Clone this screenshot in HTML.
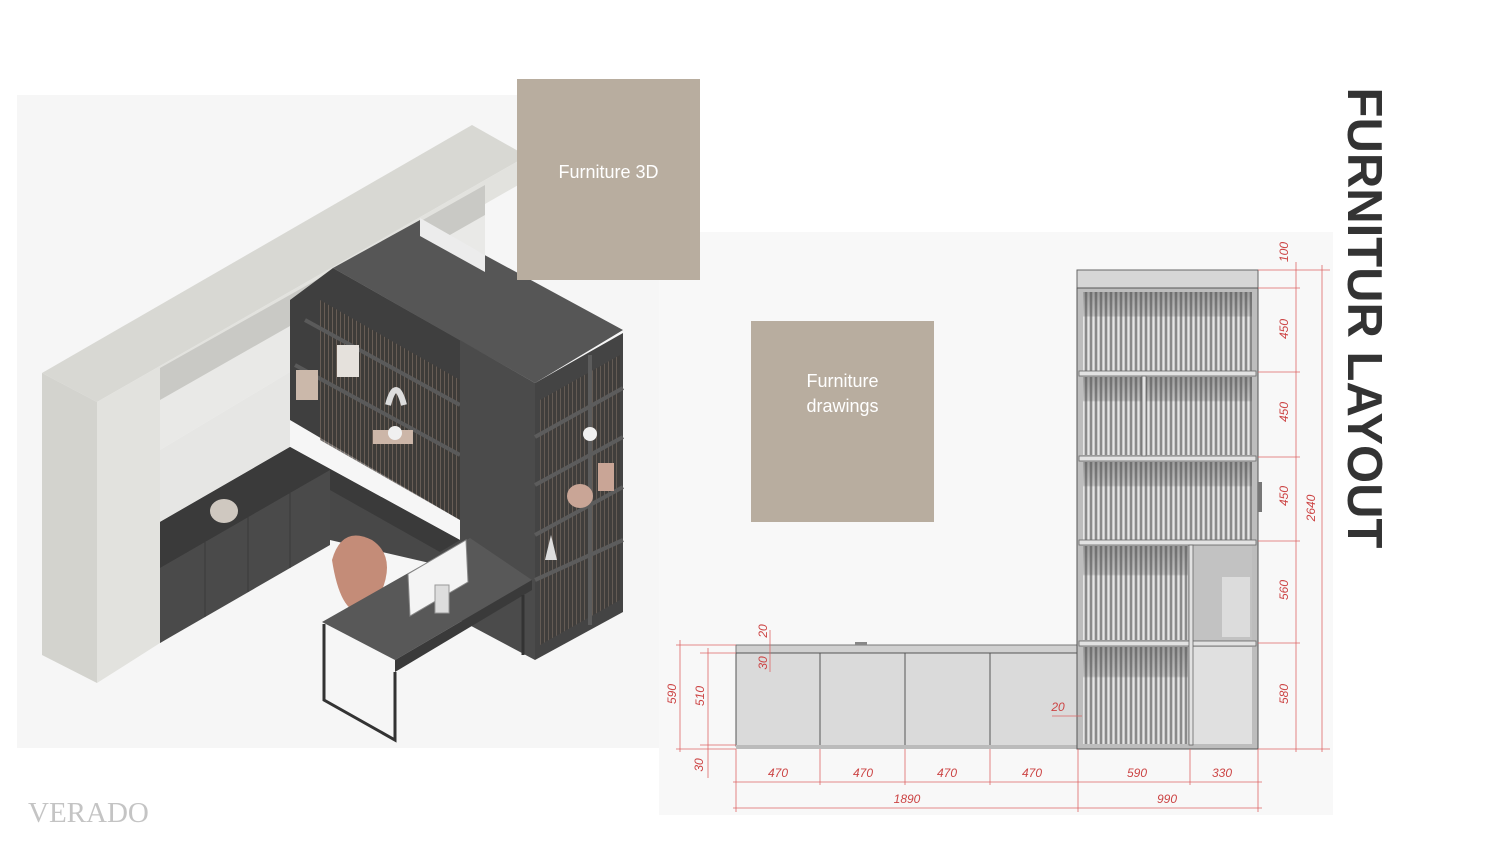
<!DOCTYPE html>
<html><head><meta charset="utf-8"><style>
html,body{margin:0;padding:0;background:#fff;}
body{width:1500px;height:844px;position:relative;overflow:hidden;font-family:"Liberation Sans",sans-serif;}
.box{position:absolute;background:#b8ad9f;color:#fff;font-size:18px;text-align:center;line-height:25px;}
.title{position:absolute;left:1364px;top:318px;transform:translate(-50%,-50%) rotate(90deg);white-space:nowrap;font-size:49px;font-weight:bold;color:#333;letter-spacing:0px;}
.logo{position:absolute;left:28px;top:797px;font-family:"Liberation Serif",serif;font-size:29px;color:#c4c4c4;letter-spacing:0px;}
</style></head><body>
<svg width="1500" height="844" style="position:absolute;left:0;top:0">
<defs>
<pattern id="sl" width="5" height="10" patternUnits="userSpaceOnUse">
<rect width="5" height="10" fill="#c9c9c9"/><rect width="2" height="10" fill="#8a8a8a"/><rect x="3" width="1" height="10" fill="#e6e6e6"/>
</pattern>
<pattern id="br" width="4" height="10" patternUnits="userSpaceOnUse">
<rect width="4" height="10" fill="#3e3a37"/><rect width="1" height="10" fill="#7a6a5e"/>
</pattern>
<linearGradient id="sh" x1="0" y1="0" x2="0" y2="1"><stop offset="0" stop-color="#555" stop-opacity=".5"/><stop offset=".3" stop-color="#555" stop-opacity=".25"/><stop offset=".32" stop-color="#555" stop-opacity="0"/></linearGradient>
</defs>
<rect x="17" y="95" width="643" height="653" fill="#f6f6f6"/>
<rect x="659" y="232" width="674" height="583" fill="#f8f8f8"/>

<!-- 3D scene -->
<polygon points="42,373 472,125 527,156 97,402" fill="#d8d8d3"/>
<polygon points="42,373 97,402 97,683 42,655" fill="#d3d3ce"/>
<polygon points="97,402 527,156 527,180 485,204 485,250 160,435 160,643 97,683" fill="#e2e2de"/>
<polygon points="160,368 485,185 485,250 160,435" fill="#c9c9c5"/>
<polygon points="160,400 485,215 485,260 290,372 160,450" fill="#e9e9e7"/>
<polygon points="160,450 290,372 290,470 160,545" fill="#e6e6e4"/>
<polygon points="290,300 333,268 460,340 460,520 290,420" fill="#3f3f3f"/>
<polygon points="320,300 460,380 460,520 320,440" fill="url(#br)" opacity=".7"/>
<polyline points="295,365 460,455" stroke="#5a5a5a" stroke-width="4" fill="none"/>
<polyline points="305,320 460,405" stroke="#5a5a5a" stroke-width="4" fill="none"/>
<!-- lower cabinet -->
<polygon points="160,522 290,447 460,540 460,570 330,540 160,643" fill="#484848"/>
<polygon points="160,522 290,447 330,470 160,568" fill="#3a3a3a"/>
<polygon points="290,447 460,540 440,552 330,490 290,470" fill="#3a3a3a"/>
<polygon points="160,568 330,470 330,545 160,643" fill="#4a4a4a"/>
<g stroke="#3a3a3a" stroke-width="1"><line x1="205" y1="542" x2="205" y2="617"/><line x1="248" y1="517" x2="248" y2="592"/><line x1="290" y1="493" x2="290" y2="568"/></g>
<!-- tower -->
<polygon points="333,268 420,220 623,330 535,383" fill="#565656"/>
<polygon points="420,218 485,255 485,272 420,236" fill="#ececec"/>
<polygon points="460,340 535,383 535,660 520,652 460,620" fill="#4b4b4b"/>
<polygon points="535,383 623,333 623,612 535,660" fill="#444"/>
<polygon points="540,400 620,355 620,600 540,645" fill="url(#br)" opacity=".6"/>
<g stroke="#5c5c5c" stroke-width="4" fill="none">
<line x1="535" y1="437" x2="623" y2="388"/><line x1="535" y1="485" x2="623" y2="437"/>
<line x1="535" y1="535" x2="623" y2="487"/><line x1="535" y1="580" x2="623" y2="540"/>
<line x1="590" y1="355" x2="590" y2="625"/>
</g>
<ellipse cx="224" cy="511" rx="14" ry="12" fill="#cfc8c0"/>
<ellipse cx="580" cy="496" rx="13" ry="12" fill="#c9a596"/>
<rect x="598" y="463" width="16" height="28" fill="#c9a596"/>
<rect x="337" y="345" width="22" height="32" fill="#e5e1dc"/>
<rect x="296" y="370" width="22" height="30" fill="#cbb8aa"/>
<path d="M388,405 q8,-30 16,0" stroke="#ddd" stroke-width="6" fill="none"/>
<rect x="373" y="430" width="40" height="14" fill="#ccb6a8"/>
<circle cx="395" cy="433" r="7" fill="#f0f0f0"/>
<circle cx="590" cy="434" r="7" fill="#f0f0f0"/>
<path d="M545,560 l6,-25 l6,25 z" fill="#ddd"/>
<path d="M332,560 q10,-35 40,-20 q30,20 0,70 q-30,15 -40,-50 z" fill="#c48c78"/>
<polygon points="322,622 470,538 532,580 395,660" fill="#585858"/>
<polygon points="395,660 532,580 532,590 395,672" fill="#3a3a3a"/>
<polyline points="324,624 324,700 395,740 395,672" stroke="#333" stroke-width="3" fill="none"/>
<line x1="523" y1="595" x2="523" y2="655" stroke="#333" stroke-width="3"/>
<polygon points="408,574 466,540 468,582 410,616" fill="#f4f4f4" stroke="#888"/>
<rect x="435" y="585" width="14" height="28" fill="#ddd" stroke="#999"/>

<!-- drawing -->
<rect x="736" y="645" width="342" height="8" fill="#d0d0d0" stroke="#777" stroke-width="1"/>
<rect x="736" y="653" width="342" height="93" fill="#dadada" stroke="#555" stroke-width="1"/>
<g stroke="#555" stroke-width="1"><line x1="820" y1="653" x2="820" y2="746"/><line x1="905" y1="653" x2="905" y2="746"/><line x1="990" y1="653" x2="990" y2="746"/></g>
<rect x="736" y="745" width="342" height="4" fill="#bbb"/>
<rect x="855" y="642" width="12" height="3" fill="#888"/>
<rect x="1077" y="270" width="181" height="18" fill="#d6d6d6" stroke="#666"/>
<rect x="1077" y="288" width="181" height="461" fill="#bdbdbd" stroke="#555"/>
<rect x="1083" y="292" width="169" height="79" fill="url(#sl)"/>
<rect x="1083" y="292" width="169" height="79" fill="url(#sh)"/>
<rect x="1083" y="377" width="59" height="78" fill="url(#sl)"/>
<rect x="1083" y="377" width="59" height="78" fill="url(#sh)"/>
<rect x="1146" y="377" width="106" height="78" fill="url(#sl)"/>
<rect x="1146" y="377" width="106" height="78" fill="url(#sh)"/>
<rect x="1083" y="462" width="169" height="78" fill="url(#sl)"/>
<rect x="1083" y="462" width="169" height="78" fill="url(#sh)"/>
<rect x="1083" y="546" width="105" height="94" fill="url(#sl)"/>
<rect x="1083" y="546" width="105" height="94" fill="url(#sh)"/>
<rect x="1193" y="546" width="59" height="94" fill="#c2c2c2"/>
<rect x="1222" y="577" width="28" height="60" fill="#dcdcdc"/>
<rect x="1083" y="647" width="105" height="97" fill="url(#sl)"/>
<rect x="1083" y="647" width="105" height="97" fill="url(#sh)"/>
<rect x="1193" y="647" width="59" height="97" fill="#e0e0e0"/>
<g fill="#e2e2e2" stroke="#666" stroke-width=".8">
<rect x="1079" y="371" width="177" height="5"/><rect x="1079" y="456" width="177" height="5"/>
<rect x="1079" y="540" width="177" height="5"/><rect x="1079" y="641" width="177" height="5"/>
<rect x="1142" y="376" width="4" height="80"/><rect x="1189" y="545" width="4" height="200"/>
</g>
<rect x="1258" y="482" width="4" height="30" fill="#777"/>

<g stroke="#d66" stroke-width="0.8" fill="none">
<line x1="1258" y1="270" x2="1330" y2="270"/><line x1="1258" y1="288" x2="1300" y2="288"/>
<line x1="1258" y1="372" x2="1300" y2="372"/><line x1="1258" y1="457" x2="1300" y2="457"/>
<line x1="1258" y1="541" x2="1300" y2="541"/><line x1="1258" y1="643" x2="1300" y2="643"/>
<line x1="1258" y1="749" x2="1330" y2="749"/>
<line x1="1296" y1="262" x2="1296" y2="752"/><line x1="1322" y1="265" x2="1322" y2="752"/>
<line x1="736" y1="749" x2="736" y2="812"/><line x1="820" y1="749" x2="820" y2="785"/>
<line x1="905" y1="749" x2="905" y2="785"/><line x1="990" y1="749" x2="990" y2="785"/>
<line x1="1078" y1="749" x2="1078" y2="812"/><line x1="1190" y1="749" x2="1190" y2="785"/>
<line x1="1258" y1="749" x2="1258" y2="812"/>
<line x1="733" y1="782" x2="1262" y2="782"/><line x1="733" y1="808" x2="1262" y2="808"/>
<line x1="676" y1="645" x2="736" y2="645"/><line x1="700" y1="653" x2="736" y2="653"/>
<line x1="676" y1="749" x2="736" y2="749"/><line x1="700" y1="745" x2="736" y2="745"/>
<line x1="680" y1="640" x2="680" y2="752"/><line x1="708" y1="648" x2="708" y2="778"/>
<line x1="770" y1="630" x2="770" y2="672"/><line x1="1052" y1="716" x2="1082" y2="716"/>
</g>
<g fill="#c44" font-family="Liberation Sans,sans-serif" font-style="italic" font-size="12" text-anchor="middle">
<text x="778" y="777">470</text><text x="863" y="777">470</text><text x="947" y="777">470</text><text x="1032" y="777">470</text>
<text x="1137" y="777">590</text><text x="1222" y="777">330</text>
<text x="907" y="803">1890</text><text x="1167" y="803">990</text>
<text x="1058" y="711">20</text>
<text transform="translate(1288,252) rotate(-90)">100</text>
<text transform="translate(1288,329) rotate(-90)">450</text>
<text transform="translate(1288,412) rotate(-90)">450</text>
<text transform="translate(1288,496) rotate(-90)">450</text>
<text transform="translate(1288,590) rotate(-90)">560</text>
<text transform="translate(1288,694) rotate(-90)">580</text>
<text transform="translate(1315,508) rotate(-90)">2640</text>
<text transform="translate(676,694) rotate(-90)">590</text>
<text transform="translate(704,696) rotate(-90)">510</text>
<text transform="translate(703,765) rotate(-90)">30</text>
<text transform="translate(767,631) rotate(-90)">20</text>
<text transform="translate(767,663) rotate(-90)">30</text>
</g>
</svg>
<div class="box" style="left:517px;top:79px;width:183px;height:201px;"><div style="margin-top:81px">Furniture 3D</div></div>
<div class="box" style="left:751px;top:321px;width:183px;height:201px;"><div style="margin-top:48px">Furniture<br>drawings</div></div>
<div class="title">FURNITUR LAYOUT</div>
<div class="logo">VERADO</div>
</body></html>
